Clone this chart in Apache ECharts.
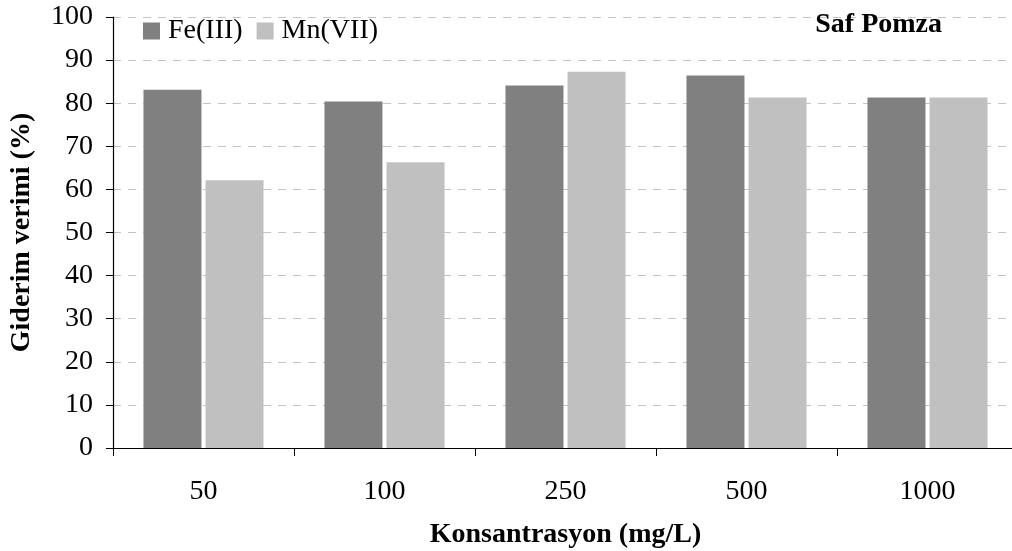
<!DOCTYPE html>
<html><head><meta charset="utf-8">
<script src="https://cdn.jsdelivr.net/npm/echarts@6/dist/echarts.min.js"></script>
<style>html,body{margin:0;padding:0;background:#fff}#c{width:1012px;height:551px}</style>
</head><body><div id="c"></div>
<script>
const categories = ['50', '100', '250', '500', '1000'];
const feValues = [83.1, 80.4, 84.1, 86.4, 81.3];
const mnValues = [62.1, 66.3, 87.3, 81.3, 81.3];
const yTicks = [0, 10, 20, 30, 40, 50, 60, 70, 80, 90, 100];

const font = '"Liberation Serif", "Times New Roman", serif';
const chart = echarts.init(document.getElementById('c'));
chart.setOption({
  animation: false,
  textStyle: { fontFamily: font },
  title: {
    text: 'Saf Pomza', right: 65, top: 6,
    textStyle: { fontFamily: font, fontWeight: 'bold', fontSize: 28, color: '#000' }
  },
  legend: {
    left: 138, top: 12, itemWidth: 17, itemHeight: 17, itemGap: 14,
    icon: 'rect',
    textStyle: { fontFamily: font, fontSize: 28, color: '#000', padding: [0, 0, 0, 3] },
    data: ['Fe(III)', 'Mn(VII)']
  },
  grid: { left: 113, right: -6, top: 17, bottom: 103, containLabel: false, outerBoundsMode: 'none' },
  xAxis: {
    type: 'category', data: categories,
    name: 'Konsantrasyon (mg/L)', nameLocation: 'middle', nameGap: 73,
    nameTextStyle: { fontFamily: font, fontWeight: 'bold', fontSize: 28, color: '#000' },
    axisLine: { lineStyle: { color: '#000', width: 1.2 } },
    axisTick: { show: true, length: 8, alignWithLabel: false, lineStyle: { color: '#000' } },
    axisLabel: { fontFamily: font, fontSize: 28, color: '#000', margin: 30 }
  },
  yAxis: {
    type: 'value', min: 0, max: 100, interval: 10,
    name: 'Giderim verimi (%)', nameLocation: 'middle', nameGap: 77,
    nameTextStyle: { fontFamily: font, fontWeight: 'bold', fontSize: 28, color: '#000' },
    axisLine: { show: true, lineStyle: { color: '#000', width: 1.2 } },
    axisTick: { show: true, length: 7, lineStyle: { color: '#000' } },
    axisLabel: { fontFamily: font, fontSize: 28, color: '#000', margin: 20,
      formatter: v => yTicks.includes(v) ? String(v) : '' },
    splitLine: { show: true, lineStyle: { color: '#c4c4c4', type: [8, 7], width: 1 } }
  },
  series: [
    { name: 'Fe(III)', type: 'bar', data: feValues, barWidth: 58, barGap: '7%',
      itemStyle: { color: '#808080' } },
    { name: 'Mn(VII)', type: 'bar', data: mnValues, barWidth: 58,
      itemStyle: { color: '#c0c0c0' } }
  ]
});
</script></body></html>
